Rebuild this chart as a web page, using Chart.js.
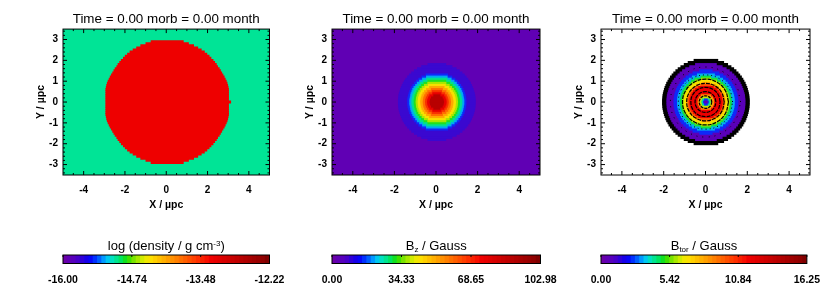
<!DOCTYPE html>
<html>
<head>
<meta charset="utf-8">
<script src="https://cdn.jsdelivr.net/npm/chart.js@4"></script>
<style>
html,body{margin:0;padding:0;background:#fff;}
canvas{position:absolute;filter:blur(0.45px);}
</style>
</head>
<body>
<canvas id="map1" width="277" height="215" style="left:0;top:0"></canvas>
<canvas id="map2" width="277" height="215" style="left:269px;top:0"></canvas>
<canvas id="map3" width="277" height="215" style="left:538px;top:0"></canvas>
<canvas id="bar1" width="290" height="60" style="left:23px;top:232px"></canvas>
<canvas id="bar2" width="290" height="60" style="left:292px;top:232px"></canvas>
<canvas id="bar3" width="290" height="60" style="left:540px;top:232px"></canvas>
<script>
var titleText = "Time = 0.00 morb = 0.00 month";
var xLabel = "X / \u00b5pc";
var yLabel = "Y / \u00b5pc";
var fontName = "'Liberation Sans', Arial, sans-serif";

var xMajor = [-4,-2,0,2,4];
var yMajor = [-3,-2,-1,0,1,2,3];
var xMinor = [-4.5,-3.5,-3,-2.5,-1.5,-1,-0.5,0.5,1,1.5,2.5,3,3.5,4.5];
var yMinor = [-3.4,-3.2,-2.8,-2.6,-2.4,-2.2,-1.8,-1.6,-1.4,-1.2,-0.8,-0.6,-0.4,-0.2,0.2,0.4,0.6,0.8,1.2,1.4,1.6,1.8,2.2,2.4,2.6,2.8,3.2,3.4];

// rows of the maps, mirrored below y=0
var rowY = [0,0.1,0.2,0.3,0.4,0.5,0.6,0.7,0.8,0.9,1,1.1,1.2,1.3,1.4,1.5,1.6,1.7,1.8,1.9,2,2.1,2.2,2.3,2.4,2.5,2.6,2.7,2.8,2.9];

// density panel: half width of the red disc on each row
var densityDisc = [2.97,2.97,2.97,2.97,2.97,2.97,2.97,2.95,2.93,2.9,2.86,2.81,2.76,2.7,2.64,2.58,2.52,2.44,2.38,2.3,2.22,2.12,2.03,1.92,1.8,1.65,1.48,1.28,1.03,0.78];

// Bz panel: half width of each colour band on each row, outside to inside
var bzBands = [
  {color:"#3a08d0", w:[1.85,1.85,1.84,1.83,1.81,1.78,1.75,1.71,1.67,1.62,1.56,1.49,1.41,1.32,1.21,1.08,0.93,0.73,0.43]},
  {color:"#1028f8", w:[1.4,1.4,1.39,1.37,1.34,1.31,1.26,1.21,1.15,1.07,0.98,0.87,0.72,0.52]},
  {color:"#00a8f4", w:[1.3,1.3,1.28,1.26,1.24,1.2,1.16,1.1,1.02,0.94,0.83,0.69,0.5]},
  {color:"#00e090", w:[1.2,1.2,1.18,1.16,1.13,1.09,1.04,0.97,0.89,0.79,0.66,0.49]},
  {color:"#20e020", w:[1.09,1.09,1.07,1.05,1.01,0.97,0.91,0.84,0.74,0.62,0.43]},
  {color:"#a8e800", w:[1,0.99,0.98,0.95,0.92,0.87,0.8,0.71,0.6,0.44]},
  {color:"#f8e000", w:[0.9,0.89,0.88,0.85,0.81,0.75,0.67,0.57,0.41]},
  {color:"#ffa800", w:[0.78,0.77,0.75,0.72,0.67,0.6,0.5,0.35]},
  {color:"#ff6c00", w:[0.66,0.65,0.63,0.59,0.53,0.44,0.27]},
  {color:"#f83000", w:[0.55,0.54,0.51,0.46,0.38,0.23]},
  {color:"#e80000", w:[0.45,0.44,0.4,0.34,0.2]},
  {color:"#b80000", w:[0.33,0.31,0.26,0.15]}
];

// Btor panel, same idea, first band is the black rim
var btorBands = [
  {color:"#000000", w:[2.08,2.08,2.07,2.06,2.04,2.02,1.99,1.96,1.92,1.88,1.82,1.77,1.7,1.62,1.54,1.44,1.33,1.2,1.04,0.85,0.57]},
  {color:"#5a00b8", w:[1.87,1.87,1.86,1.85,1.83,1.8,1.77,1.73,1.69,1.64,1.58,1.51,1.43,1.34,1.24,1.12,0.97,0.78,0.5]},
  {color:"#1028f8", w:[1.53,1.53,1.52,1.5,1.48,1.45,1.41,1.36,1.3,1.24,1.16,1.06,0.95,0.81,0.62,0.3]},
  {color:"#00b0f0", w:[1.36,1.36,1.35,1.33,1.3,1.26,1.22,1.17,1.1,1.02,0.92,0.8,0.65,0.41]},
  {color:"#10e040", w:[1.22,1.22,1.2,1.18,1.15,1.11,1.06,1,0.92,0.82,0.7,0.54,0.24]},
  {color:"#a8e800", w:[1.12,1.12,1.1,1.08,1.05,1,0.94,0.87,0.78,0.67,0.51,0.22]},
  {color:"#f8e000", w:[1.04,1.04,1.02,1,0.96,0.91,0.85,0.77,0.66,0.52,0.29]},
  {color:"#ffa000", w:[0.92,0.91,0.9,0.87,0.83,0.77,0.69,0.59,0.45,0.19]},
  {color:"#ff5000", w:[0.85,0.84,0.83,0.8,0.75,0.69,0.6,0.48,0.25]},
  {color:"#ee0000", w:[0.78,0.77,0.75,0.72,0.67,0.6,0.5,0.35]},
  {color:"#ff9000", w:[0.38,0.37,0.32,0.23]},
  {color:"#c0e800", w:[0.28,0.26,0.2]},
  {color:"#00d8a0", w:[0.2,0.17]},
  {color:"#1028f8", w:[0.12,0.07]},
  {color:"#6000b0", w:[0.06]}
];

// black field strokes on the Btor panel, x,y pairs round each ring
var ring03 = [0.3,0,0.26,0.15,0.15,0.26,0,0.3,-0.15,0.26,-0.26,0.15,-0.3,0,-0.26,-0.15,-0.15,-0.26,0,-0.3,0.15,-0.26,0.26,-0.15,0.3,0];
var ring05 = [0.5,0,0.43,0.25,0.25,0.43,0,0.5,-0.25,0.43,-0.43,0.25,-0.5,0,-0.43,-0.25,-0.25,-0.43,0,-0.5,0.25,-0.43,0.43,-0.25,0.5,0];
var ring07 = [0.7,0,0.61,0.35,0.35,0.61,0,0.7,-0.35,0.61,-0.61,0.35,-0.7,0,-0.61,-0.35,-0.35,-0.61,0,-0.7,0.35,-0.61,0.61,-0.35,0.7,0];
var ring09 = [0.9,0,0.78,0.45,0.45,0.78,0,0.9,-0.45,0.78,-0.78,0.45,-0.9,0,-0.78,-0.45,-0.45,-0.78,0,-0.9,0.45,-0.78,0.78,-0.45,0.9,0];
var ring11 = [1.1,0,0.95,0.55,0.55,0.95,0,1.1,-0.55,0.95,-0.95,0.55,-1.1,0,-0.95,-0.55,-0.55,-0.95,0,-1.1,0.55,-0.95,0.95,-0.55,1.1,0];
var ring13 = [1.3,0,1.13,0.65,0.65,1.13,0,1.3,-0.65,1.13,-1.13,0.65,-1.3,0,-1.13,-0.65,-0.65,-1.13,0,-1.3,0.65,-1.13,1.13,-0.65,1.3,0];
var ring17 = [1.68,0,1.45,0.84,0.84,1.45,0,1.68,-0.84,1.45,-1.45,0.84,-1.68,0,-1.45,-0.84,-0.84,-1.45,0,-1.68,0.84,-1.45,1.45,-0.84,1.68,0];

// colour bars
var barLevels = [0,1,2,3,4,5,6,7,8,9,10,11,12,13,14,15,16,17,18,19,20,21,22,23,24,25,26,27,28,29,30,31,32,33,34,35,36,37,38,39,40,41,42,43,44,45,46,47];
var barColors = ["#6a00a8","#6000b4","#5800bc","#4800c8","#3000d8","#1800e8","#0808f8","#0030ff","#0060ff","#0098ff","#00c8f0","#00e0c0","#00e490","#00e460","#10e020","#40e000","#78e400","#a8e800","#d0ec00","#f0e800","#fce000","#ffd000","#ffc000","#ffb000","#ffa000","#ff9000","#ff8000","#ff7000","#ff6000","#ff5000","#ff4000","#ff3000","#f82000","#f81000","#f00000","#e80000","#e00000","#d80000","#d00000","#c80000","#c00000","#b80000","#b00000","#a80000","#a00000","#980000","#900000","#800000"];
var barTickAt = [-0.5,15.5,31.5,47.5];
var densityTicks = ["-16.00","-14.74","-13.48","-12.22"];
var bzTicks = ["0.00","34.33","68.65","102.98"];
var btorTicks = ["0.00","5.42","10.84","16.25"];

function bandBars(widths, color, cx){
    var pts = [];
    for (var i=0;i<widths.length;i++){
        pts.push({x:[cx-widths[i],cx+widths[i]],y:rowY[i]});
        if (i>0) pts.push({x:[cx-widths[i],cx+widths[i]],y:-rowY[i]});
    }
    return {type:"bar",data:pts,backgroundColor:color,borderWidth:0,inflateAmount:0.4,grouped:false,barPercentage:1,categoryPercentage:1};
}

function ringLine(pairs, dash, width){
    var pts = [];
    for (var i=0;i<pairs.length;i+=2) pts.push({x:pairs[i],y:pairs[i+1]});
    return {type:"line",data:pts,borderColor:"#000",borderWidth:width,borderDash:dash,pointRadius:0,tension:0.4,fill:false};
}

// inside ticks on all four sides plus the box
var frame = {
    id:"frame",
    beforeDatasetsDraw:function(chart,args,opts){
        if (!opts.fill) return;
        var a = chart.chartArea;
        chart.ctx.fillStyle = opts.fill;
        chart.ctx.fillRect(a.left,a.top,a.right-a.left,a.bottom-a.top);
    },
    afterDraw:function(chart,args,opts){
        var c = chart.ctx, a = chart.chartArea;
        c.save();
        c.strokeStyle = "#000";
        c.lineWidth = 1;
        c.strokeRect(a.left,a.top,a.right-a.left,a.bottom-a.top);
        function xt(list,len){
            list.forEach(function(v){
                var p = chart.scales.x.getPixelForValue(v);
                c.beginPath();c.moveTo(p,a.bottom);c.lineTo(p,a.bottom-len);c.moveTo(p,a.top);c.lineTo(p,a.top+len);c.stroke();
            });
        }
        function yt(list,len){
            list.forEach(function(v){
                var p = chart.scales.y.getPixelForValue(v);
                c.beginPath();c.moveTo(a.left,p);c.lineTo(a.left+len,p);c.moveTo(a.right,p);c.lineTo(a.right-len,p);c.stroke();
            });
        }
        xt(xMajor,4);xt(xMinor,2);yt(yMajor,4);yt(yMinor,2);
        c.restore();
    }
};

function drawMap(id, datasets, fill, rightPad){
    new Chart(document.getElementById(id),{
        type:"bar",
        data:{datasets:datasets},
        plugins:[frame],
        options:{
            indexAxis:"y",
            responsive:false,
            animation:false,
            layout:{padding:{left:0,right:rightPad,top:0,bottom:0},autoPadding:false},
            plugins:{
                legend:{display:false},
                tooltip:{enabled:false},
                frame:{fill:fill},
                title:{display:true,fullSize:false,text:titleText,color:"#000",font:{family:fontName,size:13.4,weight:"normal"},padding:{top:11,bottom:2}}
            },
            scales:{
                x:{type:"linear",position:"bottom",min:-5,max:5,offset:false,
                   grid:{display:false,drawTicks:false},border:{display:false},
                   afterBuildTicks:function(s){s.ticks=xMajor.map(function(v){return {value:v};});},
                   afterFit:function(s){s.height=40;},
                   ticks:{padding:9,color:"#000",maxRotation:0,autoSkip:false,font:{family:fontName,size:10,weight:"bold"}},
                   title:{display:true,text:xLabel,color:"#000",padding:{top:0,bottom:4},font:{family:fontName,size:10.5,weight:"bold"}}},
                y:{type:"linear",position:"left",min:-3.5,max:3.5,offset:false,
                   grid:{display:false,drawTicks:false,offset:false},border:{display:false},
                   afterBuildTicks:function(s){s.ticks=yMajor.map(function(v){return {value:v};});},
                   afterFit:function(s){s.width=63;},
                   ticks:{padding:5,color:"#000",autoSkip:false,font:{family:fontName,size:10,weight:"bold"}},
                   title:{display:true,text:yLabel,color:"#000",padding:{top:35,bottom:0},font:{family:fontName,size:10.5,weight:"bold"}}}
            }
        }
    });
}

// the colour bar titles need sub/superscripts so they go on by hand
var barTitle = {
    id:"barTitle",
    afterDraw:function(chart,args,opts){
        var c = chart.ctx, a = chart.chartArea, w = 0;
        opts.runs.forEach(function(r){
            c.font = (r.small?"8":"13")+"px "+fontName;
            w += c.measureText(r.text).width;
        });
        var x = (a.left+a.right)/2-w/2;
        c.save();
        c.fillStyle = "#000";
        c.textBaseline = "alphabetic";
        opts.runs.forEach(function(r){
            c.font = (r.small?"8":"13")+"px "+fontName;
            c.fillText(r.text,x,18+(r.small||0));
            x += c.measureText(r.text).width;
        });
        c.restore();
    }
};

var barFrame = {
    id:"barFrame",
    afterDraw:function(chart){
        var c = chart.ctx, a = chart.chartArea;
        c.save();
        c.strokeStyle = "#000";
        c.lineWidth = 1;
        c.strokeRect(a.left,a.top,a.right-a.left,a.bottom-a.top);
        barTickAt.forEach(function(v){
            var p = chart.scales.x.getPixelForValue(v);
            c.beginPath();c.moveTo(p,a.top);c.lineTo(p,a.top+2);c.stroke();
        });
        c.restore();
    }
};

function drawBar(id, labels, runs, left, width){
    new Chart(document.getElementById(id),{
        type:"bar",
        data:{datasets:[{
            data:barLevels.map(function(v){return {x:v,y:1};}),
            backgroundColor:barColors,borderWidth:0,inflateAmount:0.4,barPercentage:1,categoryPercentage:1
        }]},
        plugins:[barTitle,barFrame],
        options:{
            responsive:false,
            animation:false,
            layout:{padding:{left:left,right:290-left-width,top:23,bottom:0},autoPadding:false},
            plugins:{legend:{display:false},tooltip:{enabled:false},barTitle:{runs:runs}},
            scales:{
                x:{type:"linear",min:-0.5,max:47.5,offset:false,
                   grid:{display:false,drawTicks:false,offset:false},border:{display:false},
                   afterBuildTicks:function(s){s.ticks=barTickAt.map(function(v){return {value:v};});},
                   afterFit:function(s){s.height=28.5;},
                   ticks:{padding:10,color:"#000",maxRotation:0,autoSkip:false,
                          callback:function(v,i){return labels[i];},
                          font:{family:fontName,size:10.5,weight:"bold"}}},
                y:{display:false,min:0,max:1}
            }
        }
    });
}

function mapSets(bands, cx){
    var sets = [];
    for (var i=bands.length-1;i>=0;i--) sets.push(bandBars(bands[i].w,bands[i].color,cx));
    return sets;
}

var tip = bandBars([0.08],"#ee0000",3.04);
drawMap("map1",[bandBars(densityDisc,"#ee0000",0.045),tip],"#00e496",7.5);
drawMap("map2",mapSets(bzBands,0.04),"#6000b4",6);

var strokes = [
    ringLine(ring03,[3,1],1.2),ringLine(ring05,[4,1],1.2),ringLine(ring07,[4,1],1.2),
    ringLine(ring09,[4,1],1.2),ringLine(ring11,[4,1],1.2),ringLine(ring13,[1,3],1),ringLine(ring17,[1,5],1)
];
drawMap("map3",strokes.concat(mapSets(btorBands,0.02)),null,5);

drawBar("bar1",densityTicks,[{text:"log (density / g cm"},{text:"-3",small:-4},{text:")"}],40,206.5);
drawBar("bar2",bzTicks,[{text:"B"},{text:"z",small:2},{text:" / Gauss"}],40,208.5);
drawBar("bar3",btorTicks,[{text:"B"},{text:"tor",small:2},{text:" / Gauss"}],61,209);
</script>
</body>
</html>
